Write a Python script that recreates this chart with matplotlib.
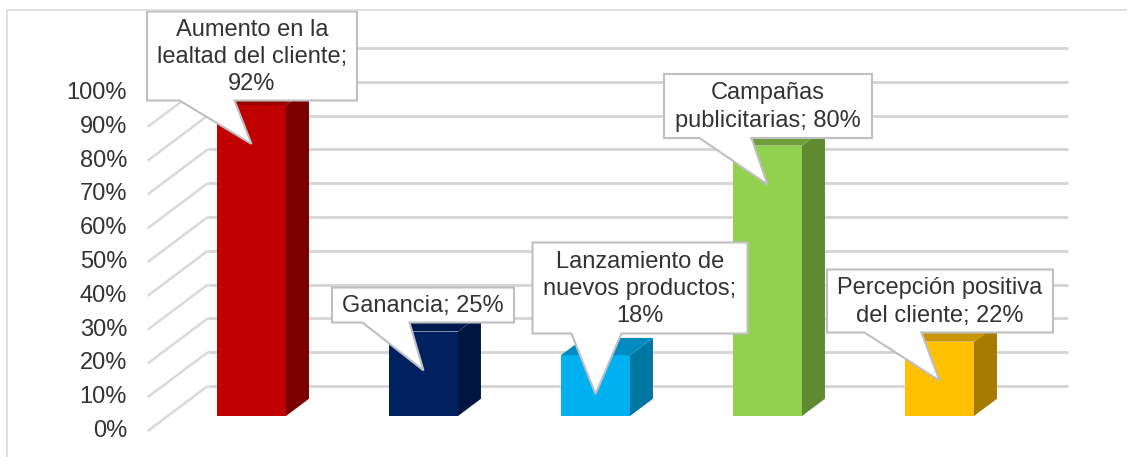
import textwrap
import matplotlib.pyplot as plt
from matplotlib.patches import Polygon, Rectangle

plt.rcParams['font.family'] = ['Liberation Sans', 'DejaVu Sans']

# data
categories = ['Aumento en la lealtad del cliente', 'Ganancia',
              'Lanzamiento de nuevos productos', 'Campañas publicitarias',
              'Percepción positiva del cliente']
values = [92, 25, 18, 80, 22]
yticks = list(range(0, 101, 10))

front_colors = ['#C00000', '#002060', '#00B0F0', '#92D050', '#FFC000']
side_colors = ['#7A0000', '#001540', '#0076A3', '#5F8A32', '#A67C00']
top_colors = ['#960000', '#001A4D', '#008BC0', '#6E9E3C', '#C99500']

# layout (pixels): callout box centre, box size, wedge base offsets from tip
box_center = [(252, 56), (423, 305), (640, 288), (768, 106), (940, 301)]
box_size = [(210, 89), (182, 35), (215, 91), (208, 64), (226, 63)]
wedge_base = [(-72, -17), (-61, -14), (-24, 26), (-68, -16), (-75, -18)]

W, H = 1127, 457
PX_CAT = 172.0      # pixels per category
PX_PCT = 3.38       # pixels per percent
X0, Y0 = 231.5, 431  # pixel of category 0 / 0% on the front plane
DX = 60 / PX_CAT     # depth offset of back wall (categories)
DY = 45 / PX_PCT     # depth offset of back wall (percent)
D0, D1 = 0.333, 0.716  # bar depth range
BW = 69 / PX_CAT
TXT = '#333333'


def proj(x, y, d):
    return x + d * DX, y + d * DY


def px2data(px, py):
    return (px - X0) / PX_CAT, (Y0 - py) / PX_PCT


fig = plt.figure(figsize=(W / 100, H / 100), dpi=100)
ax = fig.add_axes([0, 0, 1, 1])
ax.set_xlim(-X0 / PX_CAT, (W - X0) / PX_CAT)
ax.set_ylim((Y0 - H) / PX_PCT, Y0 / PX_PCT)
ax.axis('off')

fig.patches.append(Rectangle((7 / W, -0.1), 1.2, (H - 10) / H + 0.1,
                             transform=fig.transFigure, fill=False,
                             edgecolor='#d9d9d9', lw=1.2))

# gridlines: slanted side wall + horizontal back wall
xa, xb = -0.487, len(categories) - 0.487
for t in yticks:
    p0 = proj(xa, t, 0)
    p1 = proj(xa, t, 1)
    p2 = proj(xb, t, 1)
    ax.plot([p0[0], p1[0]], [p0[1], p1[1]], color='#d9d9d9', lw=1.8,
            solid_capstyle='butt', zorder=1)
    ax.plot([p1[0], p2[0]], [p1[1], p2[1]], color='#d4d4d4', lw=2.0,
            solid_capstyle='butt', zorder=1)
    lx, ly = px2data(127, 0)
    ax.text(lx, t, f'{t}%', ha='right', va='center', fontsize=17,
            color=TXT)

# 3D bars
for i, v in enumerate(values):
    l, r = i - BW / 2, i + BW / 2
    front = [proj(l, 0, D0), proj(r, 0, D0), proj(r, v, D0), proj(l, v, D0)]
    side = [proj(r, 0, D0), proj(r, 0, D1), proj(r, v, D1), proj(r, v, D0)]
    top = [proj(l, v, D0), proj(r, v, D0), proj(r, v, D1), proj(l, v, D1)]
    ax.add_patch(Polygon(front, closed=True, fc=front_colors[i], ec='none', zorder=3))
    ax.add_patch(Polygon(side, closed=True, fc=side_colors[i], ec='none', zorder=3))
    ax.add_patch(Polygon(top, closed=True, fc=top_colors[i], ec='none', zorder=3))

# callouts
for i, v in enumerate(values):
    cx, cy = box_center[i]
    bw, bh = box_size[i]
    tx, ty = proj(i, v - 11.5, D0)
    tip_px = X0 + tx * PX_CAT
    bl, br = wedge_base[i]
    left, right = cx - bw / 2, cx + bw / 2
    topy, bot = cy - bh / 2, cy + bh / 2
    pts = [(left, topy), (right, topy), (right, bot), (tip_px + br, bot),
           None, (tip_px + bl, bot), (left, bot)]
    poly = []
    for p in pts:
        if p is None:
            poly.append((tx, ty))
        else:
            poly.append(px2data(*p))
    ax.add_patch(Polygon(poly, closed=True, fc='white', ec='#bfbfbf',
                         lw=1.5, zorder=5))
    label = textwrap.fill(f'{categories[i]}; {v}%', width=20)
    ax.text(*px2data(cx, cy + 1), label, ha='center', va='center',
            fontsize=17, color=TXT, linespacing=1.32, zorder=6)

fig.savefig('out.png', dpi=100)
